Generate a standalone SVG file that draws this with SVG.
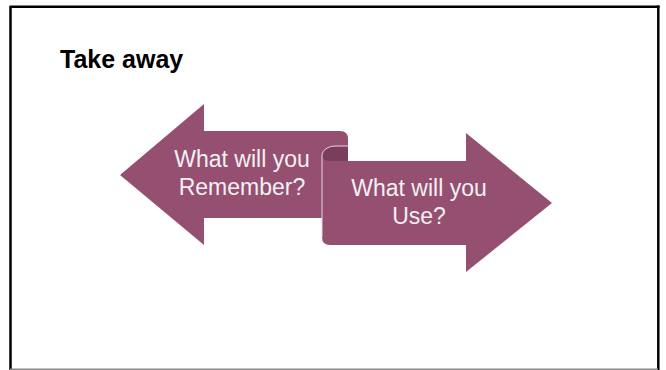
<svg xmlns="http://www.w3.org/2000/svg" width="666" height="370" viewBox="0 0 666 370">
  <style>
    .arrow { fill: #955071; }
    .curl { fill: #7a3e5d; }
    .edge { fill: none; stroke: #e8d3de; stroke-width: 1; }
    .label { font-family: "Liberation Sans", Arial, sans-serif; font-size: 23px; fill: #f4eff2; text-anchor: middle; }
    .title { font-family: "Liberation Sans", Arial, sans-serif; font-weight: bold; font-size: 25px; fill: #000; }
  </style>
  <rect x="0" y="0" width="666" height="370" fill="#ffffff"/>
  <g id="frame">
    <line x1="10.5" y1="6.5" x2="10.5" y2="370" stroke="#000" stroke-width="2.5"/>
    <line x1="9.5" y1="6.7" x2="659.5" y2="6.7" stroke="#000" stroke-width="2.5"/>
    <line x1="658.3" y1="5.5" x2="658.3" y2="370" stroke="#000" stroke-width="2.5"/>
    <line x1="10" y1="369.3" x2="658" y2="369.3" stroke="#888" stroke-width="1.5"/>
  </g>
  <g id="title">
    <text class="title" x="60" y="68">Take away</text>
  </g>
  <g id="remember">
    <path class="arrow" d="M120,175 L204,104 L204,131 L340,131 Q348,131 348,139 L348,218 L204,218 L204,245 Z"/>
    <text class="label" x="242" y="167">What will you</text>
    <text class="label" x="242" y="195">Remember?</text>
  </g>
  <g id="use">
    <path class="curl" d="M322,156 C322,150 328,146 336,146 L348,146 L348,161 L330,161 C325,161 322,159 322,156 Z"/>
    <path class="arrow" d="M322,156 C322,159 325,161 330,161 L466,161 L466,133 L552,203 L466,272 L466,245 L330,245 Q322,245 322,237 Z"/>
    <path class="edge" d="M322,237 L322,156 C322,150 328,146 336,146 L348,146"/>
    <text class="label" x="419" y="196">What will you</text>
    <text class="label" x="419" y="224">Use?</text>
  </g>
</svg>
